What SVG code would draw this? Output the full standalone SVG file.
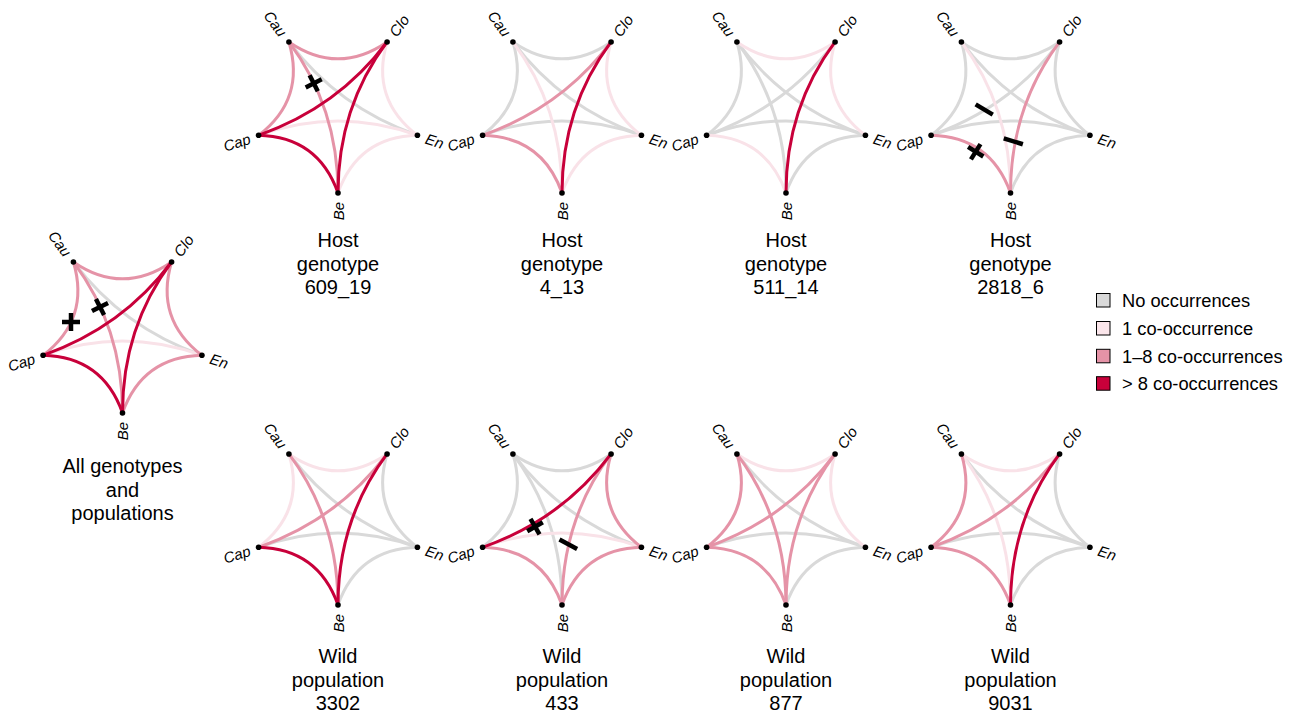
<svg xmlns="http://www.w3.org/2000/svg" xmlns:xlink="http://www.w3.org/1999/xlink" width="1298" height="714" viewBox="0 0 1298 714">
<style>
.e{fill:none;stroke-width:3}
.G{stroke:#d9d9d9}
.L{stroke:#f9e2e8}
.P{stroke:#e593a7}
.R{stroke:#c8003a}
.dot{fill:#000}
.lbl{font-family:"Liberation Sans",Arial,Helvetica,sans-serif;font-style:italic;font-size:15px;dominant-baseline:central;fill:#000}
.end{text-anchor:end}
.ttl{font-family:"Liberation Sans",Arial,Helvetica,sans-serif;font-size:20px;text-anchor:middle;fill:#000}
.leg{font-family:"Liberation Sans",Arial,Helvetica,sans-serif;font-size:18.3px;fill:#000}
.mk{stroke:#000;stroke-width:4.5;fill:none}
.sw{stroke:#000;stroke-width:1}
</style>
<defs>
<path id="CauClo" d="M-49.08,-67.55 Q0,-33.78 49.08,-67.55"/>
<path id="CloEn" d="M49.08,-67.55 Q32.12,-10.44 79.41,25.8"/>
<path id="EnBe" d="M79.41,25.8 Q19.85,27.33 0,83.5"/>
<path id="BeCap" d="M0,83.5 Q-19.85,27.33 -79.41,25.8"/>
<path id="CapCau" d="M-79.41,25.8 Q-32.12,-10.44 -49.08,-67.55"/>
<path id="CauEn" d="M-49.08,-67.55 Q0,-2 79.41,25.8"/>
<path id="CauBe" d="M-49.08,-67.55 Q0,-2 0,83.5"/>
<path id="CloBe" d="M49.08,-67.55 Q0,-2 0,83.5"/>
<path id="CloCap" d="M49.08,-67.55 Q0,-2 -79.41,25.8"/>
<path id="EnCap" d="M79.41,25.8 Q0,-3 -79.41,25.8"/>
<g id="plus" class="mk"><line x1="-9" y1="0" x2="9" y2="0"/><line x1="0" y1="-9" x2="0" y2="9"/></g>
<line id="dash" class="mk" x1="-10" y1="0" x2="10" y2="0"/>
</defs>

<g id="connectors">
<g id="c-all" transform="translate(122.5,329.5)">
<use href="#CauEn" class="e G"/>
<use href="#EnCap" class="e L"/>
<use href="#CauClo" class="e P"/><use href="#CloEn" class="e P"/><use href="#EnBe" class="e P"/><use href="#CapCau" class="e P"/><use href="#CauBe" class="e P"/>
<use href="#BeCap" class="e R"/><use href="#CloBe" class="e R"/><use href="#CloCap" class="e R"/>
</g>
<g id="c-609_19" transform="translate(338,109.5)">
<use href="#CauEn" class="e G"/>
<use href="#CloEn" class="e L"/><use href="#EnBe" class="e L"/><use href="#EnCap" class="e L"/>
<use href="#CauClo" class="e P"/><use href="#CapCau" class="e P"/><use href="#CauBe" class="e P"/>
<use href="#BeCap" class="e R"/><use href="#CloBe" class="e R"/><use href="#CloCap" class="e R"/>
</g>
<g id="c-4_13" transform="translate(562,109.5)">
<use href="#CauClo" class="e G"/><use href="#CapCau" class="e G"/><use href="#CauEn" class="e G"/><use href="#EnCap" class="e G"/>
<use href="#CloEn" class="e L"/><use href="#EnBe" class="e L"/><use href="#CauBe" class="e L"/>
<use href="#BeCap" class="e P"/><use href="#CloCap" class="e P"/>
<use href="#CloBe" class="e R"/>
</g>
<g id="c-511_14" transform="translate(786,109.5)">
<use href="#EnBe" class="e G"/><use href="#CapCau" class="e G"/><use href="#CauEn" class="e G"/><use href="#CauBe" class="e G"/><use href="#CloCap" class="e G"/><use href="#EnCap" class="e G"/>
<use href="#CauClo" class="e L"/><use href="#CloEn" class="e L"/><use href="#BeCap" class="e L"/>
<use href="#CloBe" class="e R"/>
</g>
<g id="c-2818_6" transform="translate(1010.5,109.5)">
<use href="#CauClo" class="e G"/><use href="#CloEn" class="e G"/><use href="#EnBe" class="e G"/><use href="#CapCau" class="e G"/><use href="#CauEn" class="e G"/><use href="#CloCap" class="e G"/><use href="#EnCap" class="e G"/>
<use href="#CauBe" class="e L"/>
<use href="#BeCap" class="e P"/><use href="#CloBe" class="e P"/>
</g>
<g id="c-3302" transform="translate(338,521.5)">
<use href="#CloEn" class="e G"/><use href="#EnBe" class="e G"/><use href="#CauEn" class="e G"/><use href="#EnCap" class="e G"/>
<use href="#CauClo" class="e L"/><use href="#CapCau" class="e L"/>
<use href="#CauBe" class="e P"/><use href="#CloCap" class="e P"/>
<use href="#BeCap" class="e R"/><use href="#CloBe" class="e R"/>
</g>
<g id="c-433" transform="translate(562,521.5)">
<use href="#CauClo" class="e G"/><use href="#CapCau" class="e G"/><use href="#CauEn" class="e G"/><use href="#CauBe" class="e G"/>
<use href="#EnCap" class="e L"/>
<use href="#CloEn" class="e P"/><use href="#EnBe" class="e P"/><use href="#BeCap" class="e P"/><use href="#CloBe" class="e P"/>
<use href="#CloCap" class="e R"/>
</g>
<g id="c-877" transform="translate(786,521.5)">
<use href="#EnBe" class="e G"/><use href="#CauEn" class="e G"/><use href="#EnCap" class="e G"/>
<use href="#CauClo" class="e L"/><use href="#CloEn" class="e L"/>
<use href="#BeCap" class="e P"/><use href="#CapCau" class="e P"/><use href="#CauBe" class="e P"/><use href="#CloBe" class="e P"/><use href="#CloCap" class="e P"/>
</g>
<g id="c-9031" transform="translate(1010.5,521.5)">
<use href="#CloEn" class="e G"/><use href="#EnBe" class="e G"/><use href="#CauEn" class="e G"/><use href="#EnCap" class="e G"/>
<use href="#CauClo" class="e L"/><use href="#CauBe" class="e L"/>
<use href="#BeCap" class="e P"/><use href="#CapCau" class="e P"/><use href="#CloCap" class="e P"/>
<use href="#CloBe" class="e R"/>
</g>
</g>

<g id="panel-all" transform="translate(122.5,329.5)">
<g id="all-Cau"><circle class="dot" cx="-49.08" cy="-67.55" r="2.8"/><text class="lbl end" transform="translate(-54.4,-74.8) rotate(54)">Cau</text></g>
<g id="all-Clo"><circle class="dot" cx="49.08" cy="-67.55" r="2.8"/><text class="lbl" transform="translate(54.4,-74.8) rotate(-54)">Clo</text></g>
<g id="all-En"><circle class="dot" cx="79.41" cy="25.8" r="2.8"/><text class="lbl" transform="translate(88,28.6) rotate(18)">En</text></g>
<g id="all-Be"><circle class="dot" cx="0" cy="83.5" r="2.8"/><text class="lbl end" transform="translate(0,92.5) rotate(-90)">Be</text></g>
<g id="all-Cap"><circle class="dot" cx="-79.41" cy="25.8" r="2.8"/><text class="lbl end" transform="translate(-88,28.6) rotate(-18)">Cap</text></g>
</g>
<g id="panel-609_19" transform="translate(338,109.5)">
<g id="h1-Cau"><circle class="dot" cx="-49.08" cy="-67.55" r="2.8"/><text class="lbl end" transform="translate(-54.4,-74.8) rotate(54)">Cau</text></g>
<g id="h1-Clo"><circle class="dot" cx="49.08" cy="-67.55" r="2.8"/><text class="lbl" transform="translate(54.4,-74.8) rotate(-54)">Clo</text></g>
<g id="h1-En"><circle class="dot" cx="79.41" cy="25.8" r="2.8"/><text class="lbl" transform="translate(88,28.6) rotate(18)">En</text></g>
<g id="h1-Be"><circle class="dot" cx="0" cy="83.5" r="2.8"/><text class="lbl end" transform="translate(0,92.5) rotate(-90)">Be</text></g>
<g id="h1-Cap"><circle class="dot" cx="-79.41" cy="25.8" r="2.8"/><text class="lbl end" transform="translate(-88,28.6) rotate(-18)">Cap</text></g>
</g>
<g id="panel-4_13" transform="translate(562,109.5)">
<g id="h2-Cau"><circle class="dot" cx="-49.08" cy="-67.55" r="2.8"/><text class="lbl end" transform="translate(-54.4,-74.8) rotate(54)">Cau</text></g>
<g id="h2-Clo"><circle class="dot" cx="49.08" cy="-67.55" r="2.8"/><text class="lbl" transform="translate(54.4,-74.8) rotate(-54)">Clo</text></g>
<g id="h2-En"><circle class="dot" cx="79.41" cy="25.8" r="2.8"/><text class="lbl" transform="translate(88,28.6) rotate(18)">En</text></g>
<g id="h2-Be"><circle class="dot" cx="0" cy="83.5" r="2.8"/><text class="lbl end" transform="translate(0,92.5) rotate(-90)">Be</text></g>
<g id="h2-Cap"><circle class="dot" cx="-79.41" cy="25.8" r="2.8"/><text class="lbl end" transform="translate(-88,28.6) rotate(-18)">Cap</text></g>
</g>
<g id="panel-511_14" transform="translate(786,109.5)">
<g id="h3-Cau"><circle class="dot" cx="-49.08" cy="-67.55" r="2.8"/><text class="lbl end" transform="translate(-54.4,-74.8) rotate(54)">Cau</text></g>
<g id="h3-Clo"><circle class="dot" cx="49.08" cy="-67.55" r="2.8"/><text class="lbl" transform="translate(54.4,-74.8) rotate(-54)">Clo</text></g>
<g id="h3-En"><circle class="dot" cx="79.41" cy="25.8" r="2.8"/><text class="lbl" transform="translate(88,28.6) rotate(18)">En</text></g>
<g id="h3-Be"><circle class="dot" cx="0" cy="83.5" r="2.8"/><text class="lbl end" transform="translate(0,92.5) rotate(-90)">Be</text></g>
<g id="h3-Cap"><circle class="dot" cx="-79.41" cy="25.8" r="2.8"/><text class="lbl end" transform="translate(-88,28.6) rotate(-18)">Cap</text></g>
</g>
<g id="panel-2818_6" transform="translate(1010.5,109.5)">
<g id="h4-Cau"><circle class="dot" cx="-49.08" cy="-67.55" r="2.8"/><text class="lbl end" transform="translate(-54.4,-74.8) rotate(54)">Cau</text></g>
<g id="h4-Clo"><circle class="dot" cx="49.08" cy="-67.55" r="2.8"/><text class="lbl" transform="translate(54.4,-74.8) rotate(-54)">Clo</text></g>
<g id="h4-En"><circle class="dot" cx="79.41" cy="25.8" r="2.8"/><text class="lbl" transform="translate(88,28.6) rotate(18)">En</text></g>
<g id="h4-Be"><circle class="dot" cx="0" cy="83.5" r="2.8"/><text class="lbl end" transform="translate(0,92.5) rotate(-90)">Be</text></g>
<g id="h4-Cap"><circle class="dot" cx="-79.41" cy="25.8" r="2.8"/><text class="lbl end" transform="translate(-88,28.6) rotate(-18)">Cap</text></g>
</g>
<g id="panel-3302" transform="translate(338,521.5)">
<g id="w1-Cau"><circle class="dot" cx="-49.08" cy="-67.55" r="2.8"/><text class="lbl end" transform="translate(-54.4,-74.8) rotate(54)">Cau</text></g>
<g id="w1-Clo"><circle class="dot" cx="49.08" cy="-67.55" r="2.8"/><text class="lbl" transform="translate(54.4,-74.8) rotate(-54)">Clo</text></g>
<g id="w1-En"><circle class="dot" cx="79.41" cy="25.8" r="2.8"/><text class="lbl" transform="translate(88,28.6) rotate(18)">En</text></g>
<g id="w1-Be"><circle class="dot" cx="0" cy="83.5" r="2.8"/><text class="lbl end" transform="translate(0,92.5) rotate(-90)">Be</text></g>
<g id="w1-Cap"><circle class="dot" cx="-79.41" cy="25.8" r="2.8"/><text class="lbl end" transform="translate(-88,28.6) rotate(-18)">Cap</text></g>
</g>
<g id="panel-433" transform="translate(562,521.5)">
<g id="w2-Cau"><circle class="dot" cx="-49.08" cy="-67.55" r="2.8"/><text class="lbl end" transform="translate(-54.4,-74.8) rotate(54)">Cau</text></g>
<g id="w2-Clo"><circle class="dot" cx="49.08" cy="-67.55" r="2.8"/><text class="lbl" transform="translate(54.4,-74.8) rotate(-54)">Clo</text></g>
<g id="w2-En"><circle class="dot" cx="79.41" cy="25.8" r="2.8"/><text class="lbl" transform="translate(88,28.6) rotate(18)">En</text></g>
<g id="w2-Be"><circle class="dot" cx="0" cy="83.5" r="2.8"/><text class="lbl end" transform="translate(0,92.5) rotate(-90)">Be</text></g>
<g id="w2-Cap"><circle class="dot" cx="-79.41" cy="25.8" r="2.8"/><text class="lbl end" transform="translate(-88,28.6) rotate(-18)">Cap</text></g>
</g>
<g id="panel-877" transform="translate(786,521.5)">
<g id="w3-Cau"><circle class="dot" cx="-49.08" cy="-67.55" r="2.8"/><text class="lbl end" transform="translate(-54.4,-74.8) rotate(54)">Cau</text></g>
<g id="w3-Clo"><circle class="dot" cx="49.08" cy="-67.55" r="2.8"/><text class="lbl" transform="translate(54.4,-74.8) rotate(-54)">Clo</text></g>
<g id="w3-En"><circle class="dot" cx="79.41" cy="25.8" r="2.8"/><text class="lbl" transform="translate(88,28.6) rotate(18)">En</text></g>
<g id="w3-Be"><circle class="dot" cx="0" cy="83.5" r="2.8"/><text class="lbl end" transform="translate(0,92.5) rotate(-90)">Be</text></g>
<g id="w3-Cap"><circle class="dot" cx="-79.41" cy="25.8" r="2.8"/><text class="lbl end" transform="translate(-88,28.6) rotate(-18)">Cap</text></g>
</g>
<g id="panel-9031" transform="translate(1010.5,521.5)">
<g id="w4-Cau"><circle class="dot" cx="-49.08" cy="-67.55" r="2.8"/><text class="lbl end" transform="translate(-54.4,-74.8) rotate(54)">Cau</text></g>
<g id="w4-Clo"><circle class="dot" cx="49.08" cy="-67.55" r="2.8"/><text class="lbl" transform="translate(54.4,-74.8) rotate(-54)">Clo</text></g>
<g id="w4-En"><circle class="dot" cx="79.41" cy="25.8" r="2.8"/><text class="lbl" transform="translate(88,28.6) rotate(18)">En</text></g>
<g id="w4-Be"><circle class="dot" cx="0" cy="83.5" r="2.8"/><text class="lbl end" transform="translate(0,92.5) rotate(-90)">Be</text></g>
<g id="w4-Cap"><circle class="dot" cx="-79.41" cy="25.8" r="2.8"/><text class="lbl end" transform="translate(-88,28.6) rotate(-18)">Cap</text></g>
</g>

<g id="markers">
<use href="#plus" transform="translate(71,322)"/>
<use href="#plus" transform="translate(100,307) rotate(-27)"/>
<use href="#plus" transform="translate(313.7,83.3) rotate(-27)"/>
<use href="#plus" transform="translate(975.7,151.7) rotate(32)"/>
<use href="#plus" transform="translate(535,526.7) rotate(-30)"/>
<use href="#dash" transform="translate(984.2,109.5) rotate(31)"/>
<use href="#dash" transform="translate(1013.3,141.3) rotate(17)"/>
<use href="#dash" transform="translate(568.3,544.3) rotate(28)"/>
</g>

<g id="titles">
<text class="ttl" x="122.5" y="473">All genotypes</text>
<text class="ttl" x="122.5" y="496.5">and</text>
<text class="ttl" x="122.5" y="520">populations</text>
<text class="ttl" x="338" y="247">Host</text><text class="ttl" x="338" y="270.5">genotype</text><text class="ttl" x="338" y="294">609_19</text>
<text class="ttl" x="562" y="247">Host</text><text class="ttl" x="562" y="270.5">genotype</text><text class="ttl" x="562" y="294">4_13</text>
<text class="ttl" x="786" y="247">Host</text><text class="ttl" x="786" y="270.5">genotype</text><text class="ttl" x="786" y="294">511_14</text>
<text class="ttl" x="1010.5" y="247">Host</text><text class="ttl" x="1010.5" y="270.5">genotype</text><text class="ttl" x="1010.5" y="294">2818_6</text>
<text class="ttl" x="338" y="663">Wild</text><text class="ttl" x="338" y="686.5">population</text><text class="ttl" x="338" y="710">3302</text>
<text class="ttl" x="562" y="663">Wild</text><text class="ttl" x="562" y="686.5">population</text><text class="ttl" x="562" y="710">433</text>
<text class="ttl" x="786" y="663">Wild</text><text class="ttl" x="786" y="686.5">population</text><text class="ttl" x="786" y="710">877</text>
<text class="ttl" x="1010.5" y="663">Wild</text><text class="ttl" x="1010.5" y="686.5">population</text><text class="ttl" x="1010.5" y="710">9031</text>
</g>

<g id="legend">
<rect class="sw" x="1096.5" y="293.5" width="13.5" height="13.5" fill="#d9d9d9"/>
<text class="leg" x="1122" y="306.7">No occurrences</text>
<rect class="sw" x="1096.5" y="321.5" width="13.5" height="13.5" fill="#fbe6eb"/>
<text class="leg" x="1122" y="334.7">1 co-occurrence</text>
<rect class="sw" x="1096.5" y="349.3" width="13.5" height="13.5" fill="#e593a7"/>
<text class="leg" x="1122" y="362.5">1–8 co-occurrences</text>
<rect class="sw" x="1096.5" y="376.7" width="13.5" height="13.5" fill="#c8003a"/>
<text class="leg" x="1122" y="390">&gt; 8 co-occurrences</text>
</g>
</svg>
